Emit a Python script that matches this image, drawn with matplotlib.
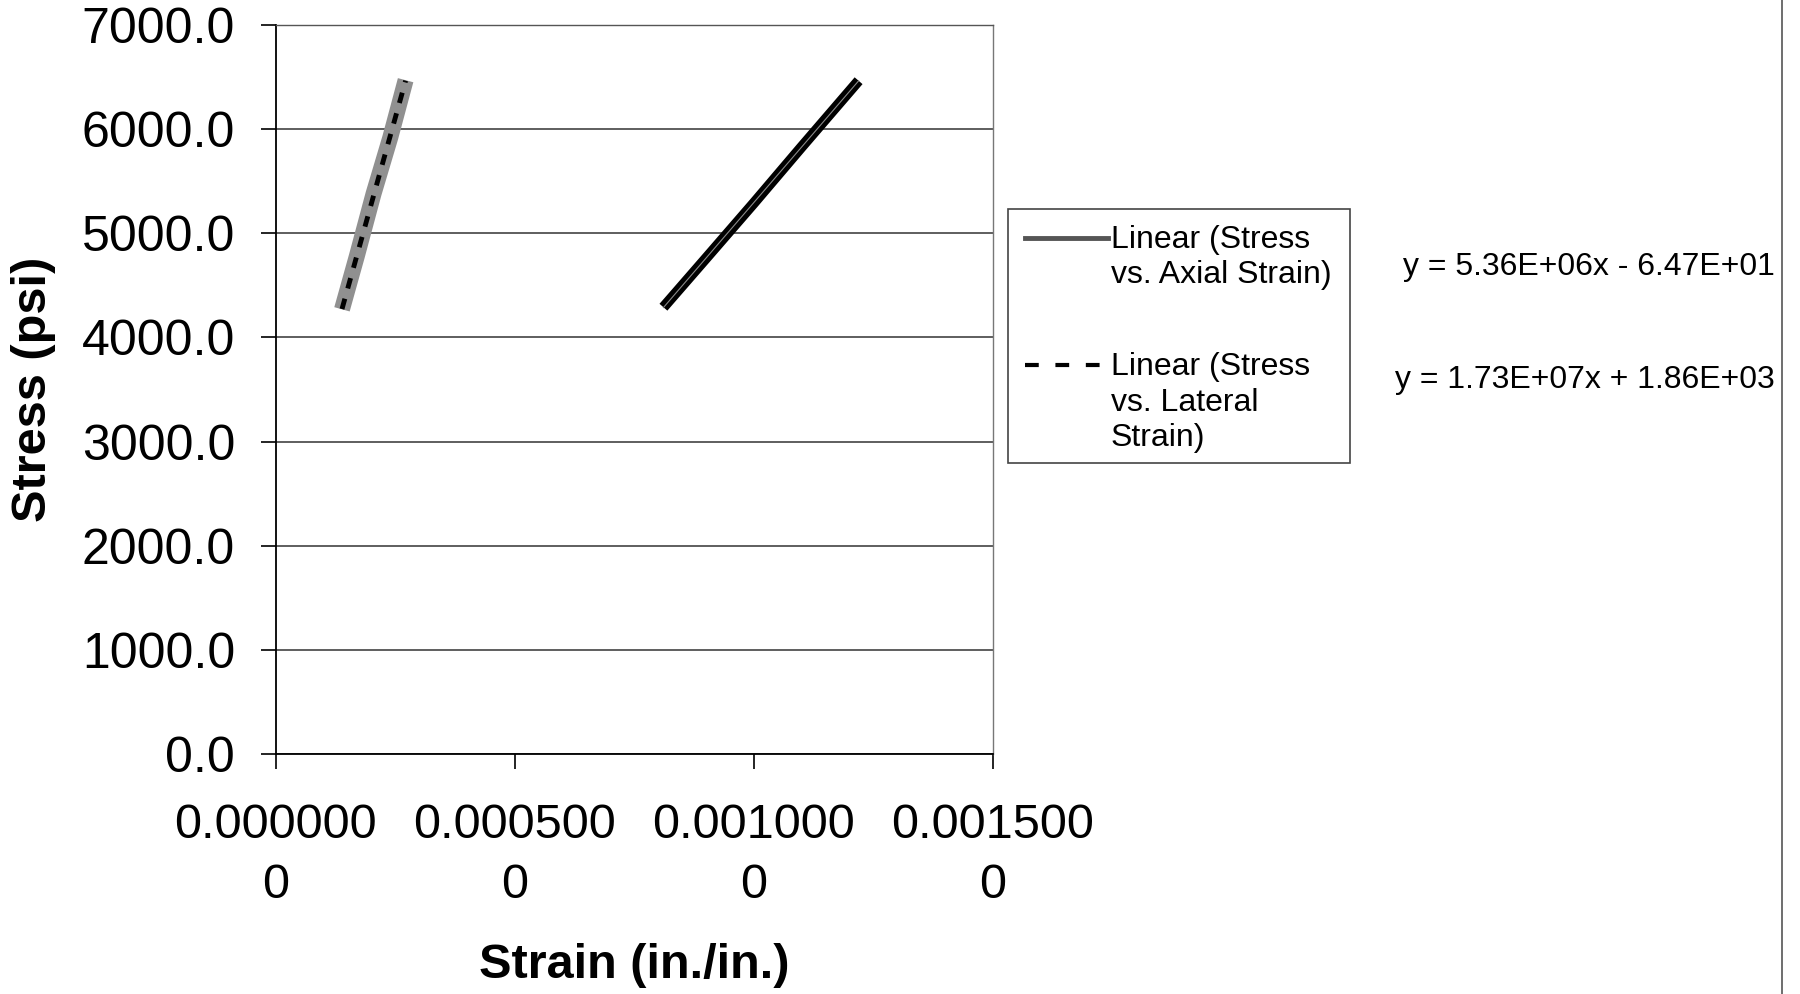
import numpy as np
import matplotlib
matplotlib.use("Agg")
import matplotlib.pyplot as plt
from matplotlib.lines import Line2D
from matplotlib.patches import Rectangle

plt.rcParams['font.family'] = ['Liberation Sans', 'DejaVu Sans']

# data
axial_strain = [0.000811, 0.000900, 0.001000, 0.001100, 0.001219]
axial_stress = [4290, 4760, 5290, 5830, 6465]
lateral_strain = [0.000139, 0.000170, 0.000205, 0.000240, 0.000272]
lateral_stress = [4270, 4780, 5380, 5920, 6470]

xticks = [0.0, 0.0005, 0.0010, 0.0015]
xtick_labels = ["0.000000\n0", "0.000500\n0", "0.001000\n0", "0.001500\n0"]
yticks = [0, 1000, 2000, 3000, 4000, 5000, 6000, 7000]
ytick_labels = ["%.1f" % v for v in yticks]

legend_labels = [["Linear (Stress", "vs. Axial Strain)"],
                 ["Linear (Stress", "vs. Lateral", "Strain)"]]
eq_texts = ["y = 5.36E+06x - 6.47E+01", "y = 1.73E+07x + 1.86E+03"]

W, H = 1800, 994
fig = plt.figure(figsize=(18, 9.94), dpi=100)
ax = fig.add_axes([275.5 / W, 1 - 754 / H, (993 - 275.5) / W, (754 - 25) / H])

def fx(px):
    return px / W

def fy(py):
    return 1 - py / H

# linear fits (trendlines)
pa = np.polyfit(axial_strain, axial_stress, 1)
pl = np.polyfit(lateral_strain, lateral_stress, 1)
xa = np.array([axial_strain[0], axial_strain[-1]])
xl = np.array([lateral_strain[0], lateral_strain[-1]])

ax.plot(axial_strain, axial_stress, color='black', lw=7.5, solid_capstyle='butt', zorder=3)
ax.plot(xa, np.polyval(pa, xa), color='#8a8a8a', lw=0.8, zorder=4)
ax.plot(lateral_strain, lateral_stress, color='#909090', lw=11.5, solid_capstyle='butt', zorder=3)
ax.plot(xl, np.polyval(pl, xl), color='black', lw=3.5, dashes=(2.2, 2.2), zorder=4)

ax.set_xlim(0, 0.0015)
ax.set_ylim(0, 7000)
ax.set_xticks(xticks)
ax.set_xticklabels(xtick_labels, fontsize=35, linespacing=1.45)
ax.set_yticks(yticks)
ax.set_yticklabels(ytick_labels, fontsize=36)
ax.tick_params(axis='x', direction='out', length=11, width=1.2, pad=24)
ax.tick_params(axis='y', direction='out', length=11, width=1.2, pad=18)

ax.grid(axis='y', color='#333333', lw=1.1)
ax.set_axisbelow(True)
for s in ['left', 'bottom']:
    ax.spines[s].set_color('black')
    ax.spines[s].set_linewidth(1.3)
ax.spines['right'].set_color('#777777')
ax.spines['top'].set_color('#555555')
ax.spines['right'].set_linewidth(1)
ax.spines['top'].set_linewidth(1)

ax.set_ylabel("Stress (psi)", fontsize=35, fontweight='bold', va='center')
ax.yaxis.set_label_coords((34 - 275.5) / 717.5, 0.5)
ax.set_xlabel("Strain (in./in.)", fontsize=35, fontweight='bold', va='center')
ax.xaxis.set_label_coords(0.5, (754 - 966) / 729.0)

# legend box
fig.add_artist(Rectangle((fx(1008), fy(463)), fx(1350) - fx(1008), fy(209) - fy(463),
                         transform=fig.transFigure, facecolor='white', edgecolor='#444444', lw=1.2))
fig.add_artist(Line2D([fx(1025), fx(1108)], [fy(238), fy(238)], transform=fig.transFigure,
                      color='#555555', lw=3.5))
fig.add_artist(Line2D([fx(1025), fx(1101)], [fy(365), fy(365)], transform=fig.transFigure,
                      color='black', lw=3, dashes=(3.3, 4.0)))
line_y = [[240, 275], [367, 403, 438]]
for lines, ys in zip(legend_labels, line_y):
    for txt, yy in zip(lines, ys):
        fig.text(fx(1111), fy(yy), txt, fontsize=23, ha='left', va='center')

# equations
fig.text(fx(1775), fy(267), eq_texts[0], fontsize=23, ha='right', va='center')
fig.text(fx(1775), fy(380), eq_texts[1], fontsize=23, ha='right', va='center')

# page edge from the scan
fig.add_artist(Line2D([fx(1782), fx(1782)], [0, 1], transform=fig.transFigure, color='#555555', lw=1.2))

fig.savefig("out.png", dpi=100)
